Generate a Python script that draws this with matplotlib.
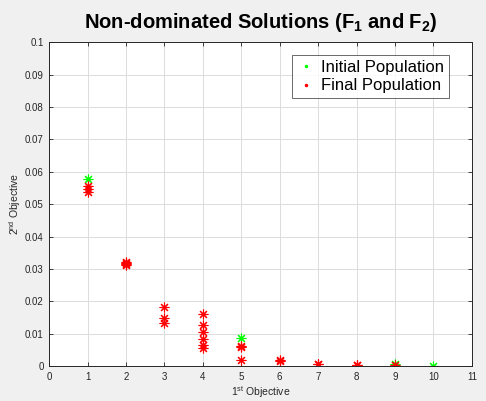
import numpy as np
import matplotlib.pyplot as plt
from matplotlib.lines import Line2D

plt.rcParams['font.family'] = ['Liberation Sans', 'DejaVu Sans']
plt.rcParams['mathtext.fontset'] = 'custom'
plt.rcParams['mathtext.rm'] = 'Liberation Sans'
plt.rcParams['mathtext.bf'] = 'Liberation Sans:bold'

# poblacion inicial (no dominadas)
init_f1 = [1, 5, 9, 10]
init_f2 = [0.0579, 0.0087, 0.0008, 0.0001]

# poblacion final (no dominadas)
final_f1 = [1, 1, 1,
            2, 2, 2, 2,
            3, 3, 3,
            4, 4, 4, 4, 4, 4,
            5, 5, 5,
            6, 6,
            7, 7,
            8, 8,
            9]
final_f2 = [0.0556, 0.0548, 0.0536,
            0.0322, 0.0319, 0.0316, 0.0313,
            0.0181, 0.0147, 0.0133,
            0.0160, 0.0127, 0.0104, 0.0083, 0.0066, 0.0056,
            0.0062, 0.0058, 0.0019,
            0.0020, 0.0015,
            0.0008, 0.0005,
            0.0004, 0.0002,
            0.0002]

xticks = np.arange(0, 12)
yticks = np.round(np.arange(0, 0.11, 0.01), 2)

fig = plt.figure(figsize=(4.86, 4.01), dpi=100, facecolor='#f0f0f0')
ax = fig.add_axes([0.101, 0.087, 0.870, 0.808])

star = (8, 2, 0)
ax.plot(init_f1, init_f2, linestyle='none', marker=star, color='#00ff00',
        markersize=7, markeredgewidth=0.8)
ax.plot(final_f1, final_f2, linestyle='none', marker=star, color='#ff0000',
        markersize=7, markeredgewidth=0.8)

ax.set_xlim(0, 11)
ax.set_ylim(0, 0.1)
ax.set_xticks(xticks)
ax.set_yticks(yticks)
ax.set_xticklabels([str(v) for v in xticks])
ax.set_yticklabels(['0'] + ['%g' % v for v in yticks[1:]])
ax.tick_params(direction='in', top=True, right=True, labelsize=7,
               length=3, width=0.6, colors='#262626', pad=4)
ax.grid(True, color='#dcdcdc', linewidth=0.7)
ax.set_axisbelow(True)
for s in ax.spines.values():
    s.set_color('#262626')
    s.set_linewidth(0.7)

ax.set_title(r'Non-dominated Solutions (F$_\mathbf{1}$ and F$_\mathbf{2}$)',
             fontsize=14.5, fontweight='bold', pad=10)
ax.set_xlabel(r'1$^{\rm st}$ Objective', fontsize=7.5, color='#262626', labelpad=2)
ax.set_ylabel(r'2$^{\rm nd}$ Objective', fontsize=7.5, color='#262626', labelpad=1)

handles = [Line2D([], [], linestyle='none', marker='.', color='#00ff00', markersize=3),
           Line2D([], [], linestyle='none', marker='.', color='#ff0000', markersize=3)]
leg = ax.legend(handles, ['Initial Population', 'Final Population'],
                loc='upper right', bbox_to_anchor=(0.945, 0.96), fontsize=12,
                frameon=True, fancybox=False, edgecolor='#262626',
                handlelength=1.0, handletextpad=0.4, borderpad=0.3,
                labelspacing=0.2, borderaxespad=0)
leg.get_frame().set_linewidth(0.6)

plt.savefig('out.png', dpi=100, facecolor=fig.get_facecolor())
